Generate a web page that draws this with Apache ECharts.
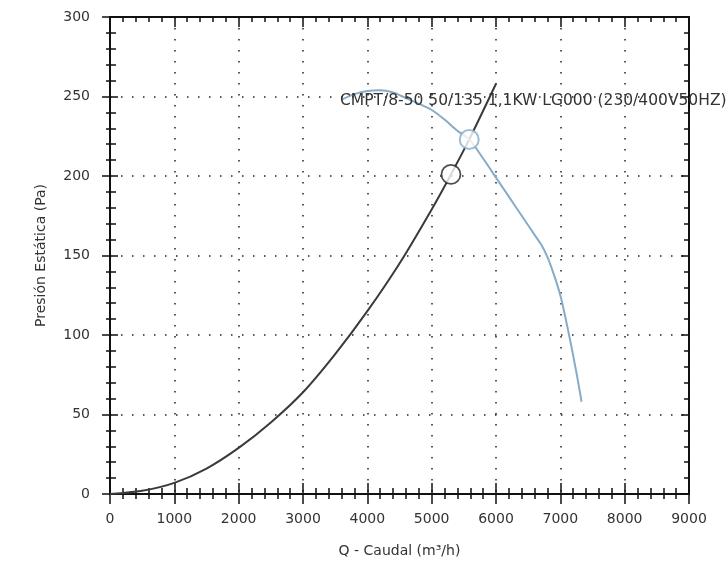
<!DOCTYPE html>
<html>
<head>
<meta charset="utf-8">
<script src="https://cdn.jsdelivr.net/npm/echarts@6/dist/echarts.min.js"></script>
<style>
  html, body { margin: 0; padding: 0; background: #fff; }
  #chart { width: 728px; height: 567px; }
</style>
</head>
<body>
<div id="chart"></div>
<script>
// System resistance curve (Q in m³/h, static pressure in Pa)
const systemFlow     = [0, 500, 1000, 1500, 2000, 2500, 3000, 3500, 4000, 4500, 5000, 5300, 5584, 6000];
const systemPressure = [0, 2, 7, 16, 29, 45, 64, 88, 115, 145, 179, 201, 223, 258];

// Fan curve CMPT/8-50 50/135 1,1KW
const fanFlow     = [3600, 3800, 4000, 4200, 4400, 4600, 4800, 5000, 5200, 5400, 5584, 5800, 6000, 6200, 6400, 6600, 6700, 6800, 6900, 7000, 7100, 7200, 7270, 7330];
const fanPressure = [248, 251.5, 253.5, 254, 252.5, 249, 245.5, 241.5, 235.5, 228.5, 223, 211, 199, 187, 175, 163, 157, 149, 138, 125, 107, 87, 72, 58];

// Design point and operating point
const designPoint    = [5300, 201];
const operatingPoint = [5584, 223];

const fanName = 'CMPT/8-50 50/135 1,1KW LG000 (230/400V50HZ)';

const X_MIN = 0, X_MAX = 9000, X_STEP = 1000;
const Y_MIN = 0, Y_MAX = 300, Y_STEP = 50;

const FONT = 'DejaVu Sans';
const axisColor = '#111';
const gridDots = { color: '#222', width: 1.5, type: [1.5, 9.5] };

function pairs(xs, ys) { return xs.map((x, i) => [x, ys[i]]); }
const plainNumber = v => String(v);

function xAxisDef(opts) {
  return Object.assign({
    type: 'value', min: X_MIN, max: X_MAX, interval: X_STEP,
    axisLine: { show: true, onZero: false, lineStyle: { color: axisColor, width: 2 } },
    axisTick: { show: true, length: 10, lineStyle: { color: axisColor, width: 1.5 } },
    minorTick: { show: true, splitNumber: 5, length: 5, lineStyle: { color: axisColor, width: 1.5 } },
    axisLabel: { show: false },
    splitLine: { show: false }
  }, opts);
}
function yAxisDef(opts) {
  return Object.assign({
    type: 'value', min: Y_MIN, max: Y_MAX, interval: Y_STEP,
    axisLine: { show: true, onZero: false, lineStyle: { color: axisColor, width: 2 } },
    axisTick: { show: true, length: 8, lineStyle: { color: axisColor, width: 1.5 } },
    minorTick: { show: true, splitNumber: 5, length: 5, lineStyle: { color: axisColor, width: 1.5 } },
    axisLabel: { show: false },
    splitLine: { show: false }
  }, opts);
}

const chart = echarts.init(document.getElementById('chart'), null, { renderer: 'canvas' });

chart.setOption({
  animation: false,
  backgroundColor: '#fff',
  grid: { left: 110, right: 39, top: 17, bottom: 73 },
  xAxis: [
    xAxisDef({
      position: 'bottom',
      name: 'Q - Caudal (m³/h)', nameLocation: 'middle', nameGap: 50,
      nameTextStyle: { fontFamily: FONT, fontSize: 14, color: '#333' },
      axisLabel: { show: true, margin: 18, fontFamily: FONT, fontSize: 14, color: '#333', formatter: plainNumber },
      splitLine: { show: true, lineStyle: gridDots }
    }),
    xAxisDef({
      position: 'bottom',
      axisTick: { show: true, inside: true, length: 11, lineStyle: { color: axisColor, width: 1.5 } },
      minorTick: { show: true, splitNumber: 5, length: 6, lineStyle: { color: axisColor, width: 1.5 } }
    }),
    xAxisDef({
      position: 'top',
      axisTick: { show: true, inside: true, length: 10, lineStyle: { color: axisColor, width: 1.5 } }
    })
  ],
  yAxis: [
    yAxisDef({
      position: 'left',
      name: 'Presión Estática (Pa)', nameLocation: 'middle', nameGap: 62, nameRotate: 90,
      nameTextStyle: { fontFamily: FONT, fontSize: 14, color: '#333' },
      axisLabel: { show: true, margin: 20, fontFamily: FONT, fontSize: 14, color: '#333', formatter: plainNumber },
      splitLine: { show: true, lineStyle: gridDots },
      minorTick: { show: true, splitNumber: 5, length: 4, lineStyle: { color: axisColor, width: 1.5 } }
    }),
    yAxisDef({
      position: 'left',
      axisTick: { show: true, inside: true, length: 8, lineStyle: { color: axisColor, width: 1.5 } },
      minorTick: { show: true, splitNumber: 5, length: 6, lineStyle: { color: axisColor, width: 1.5 } }
    }),
    yAxisDef({
      position: 'right',
      axisTick: { show: true, inside: true, length: 8, lineStyle: { color: axisColor, width: 1.5 } }
    })
  ],
  graphic: [{
    type: 'text',
    left: 340, top: 93,
    z: 10,
    style: { text: fanName, fontFamily: FONT, fontSize: 15.5, fill: '#333' }
  }],
  series: [
    {
      name: 'Sistema',
      type: 'line',
      xAxisIndex: 0, yAxisIndex: 0,
      data: pairs(systemFlow, systemPressure),
      smooth: 0.3,
      showSymbol: false,
      lineStyle: { color: '#3a3a3a', width: 2 },
      z: 3
    },
    {
      name: fanName,
      type: 'line',
      xAxisIndex: 0, yAxisIndex: 0,
      data: pairs(fanFlow, fanPressure),
      smooth: 0.3,
      showSymbol: false,
      lineStyle: { color: '#86acc9', width: 2 },
      z: 4
    },
    {
      name: 'Punto de diseño',
      type: 'scatter',
      xAxisIndex: 0, yAxisIndex: 0,
      data: [designPoint],
      symbol: 'circle', symbolSize: 19,
      itemStyle: { color: '#fff', borderColor: '#222', borderWidth: 1.8 },
      z: 5
    },
    {
      name: 'Punto de trabajo',
      type: 'scatter',
      xAxisIndex: 0, yAxisIndex: 0,
      data: [operatingPoint],
      symbol: 'circle', symbolSize: 19,
      itemStyle: { color: '#fff', borderColor: '#86acc9', borderWidth: 2 },
      z: 6
    }
  ]
});
</script>
</body>
</html>
